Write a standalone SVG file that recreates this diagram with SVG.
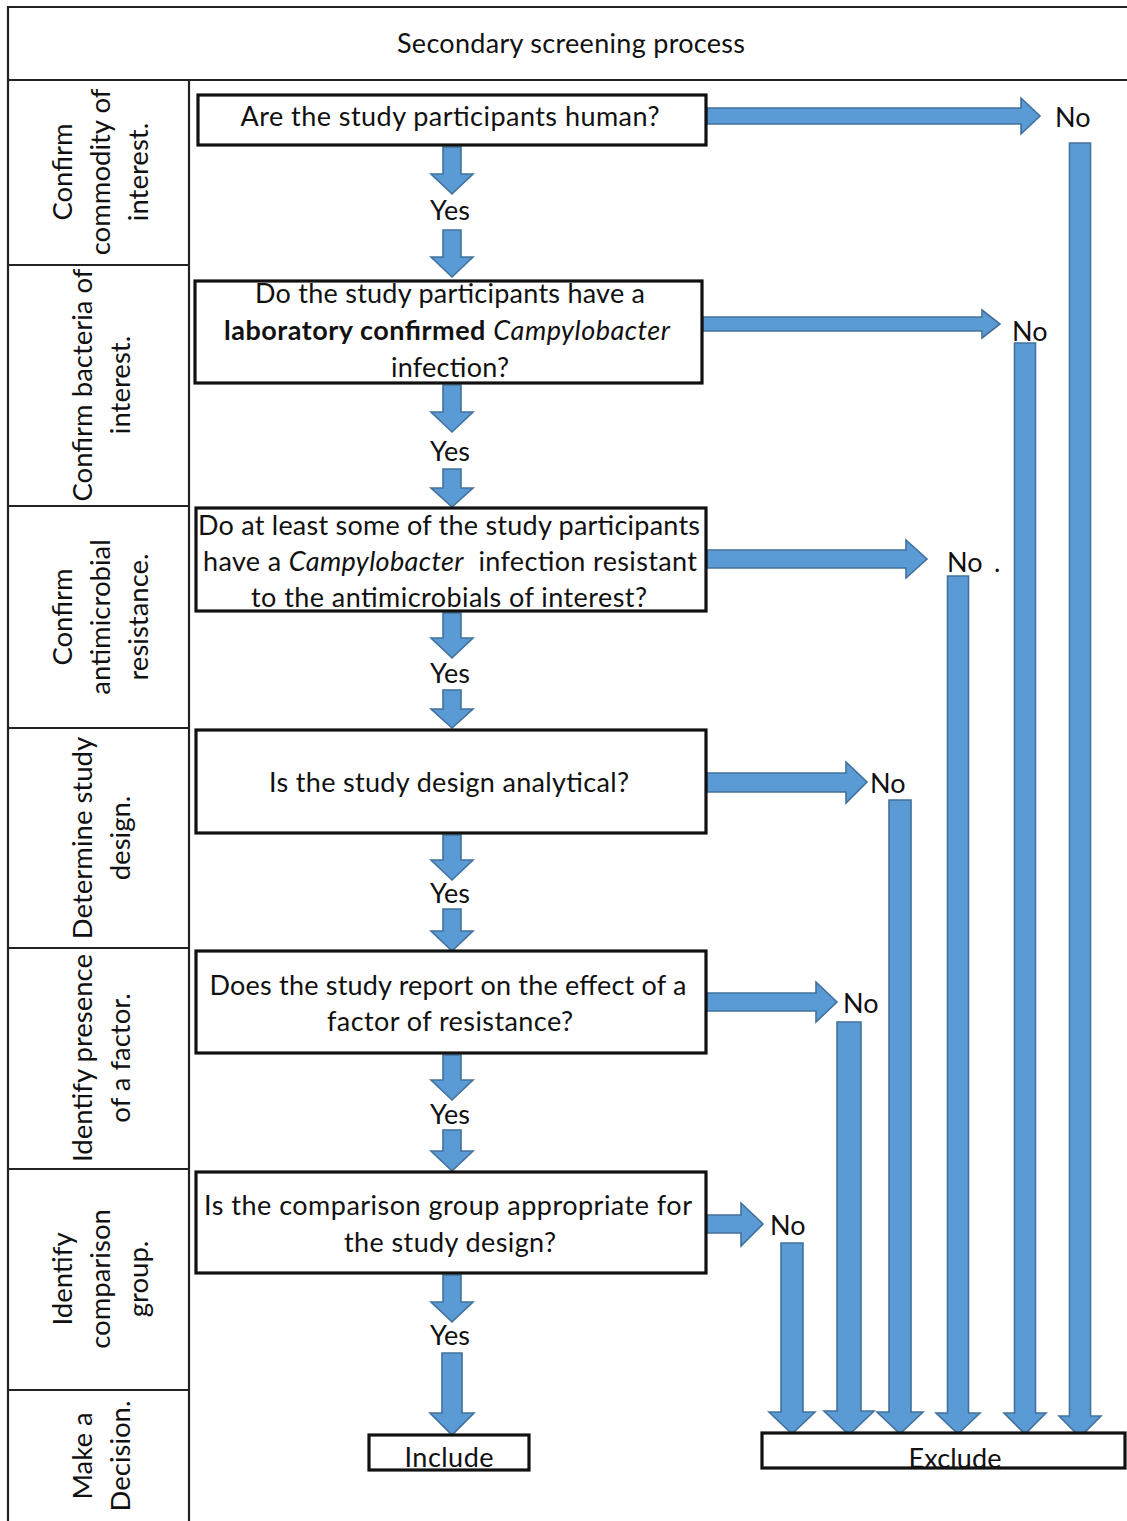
<svg xmlns="http://www.w3.org/2000/svg" width="1127" height="1521" viewBox="0 0 1127 1521">
<style>
.bg{fill:#ffffff}
.grid{stroke:#222;stroke-width:2.2;fill:none}
.box{fill:#ffffff;stroke:#111;stroke-width:3.2}
.t{font-family:Lato,"Open Sans","Liberation Sans",sans-serif;font-size:27px;fill:#111}
.c{text-anchor:middle}
.lab{font-family:Lato,"Open Sans","Liberation Sans",sans-serif;font-size:27.5px;fill:#111;text-anchor:middle}
.arr{fill:#5B9BD5;stroke:#41719C;stroke-width:1.6;stroke-linejoin:miter}
.b{font-weight:bold}
.i{font-style:italic}
</style>
<rect class="bg" x="0" y="0" width="1127" height="1521"/>

<g id="table">
<line class="grid" x1="8" y1="7" x2="1127" y2="7"/>
<line class="grid" x1="8" y1="80" x2="1127" y2="80"/>
<line class="grid" x1="8" y1="6" x2="8" y2="1521"/>
<line class="grid" x1="189" y1="80" x2="189" y2="1521"/>
<line class="grid" x1="8" y1="265" x2="189" y2="265"/>
<line class="grid" x1="8" y1="506" x2="189" y2="506"/>
<line class="grid" x1="8" y1="728" x2="189" y2="728"/>
<line class="grid" x1="8" y1="948" x2="189" y2="948"/>
<line class="grid" x1="8" y1="1169" x2="189" y2="1169"/>
<line class="grid" x1="8" y1="1390" x2="189" y2="1390"/>
<text class="t c" x="571" y="53" textLength="348">Secondary screening process</text>
</g>

<g id="stage-labels">
<g id="lab1">
<text class="lab" transform="translate(72,172) rotate(-90)">Confirm</text>
<text class="lab" transform="translate(110,172) rotate(-90)">commodity of</text>
<text class="lab" transform="translate(148,172) rotate(-90)">interest.</text>
</g>
<g id="lab2">
<text class="lab" transform="translate(92,385) rotate(-90)">Confirm bacteria of</text>
<text class="lab" transform="translate(130,385) rotate(-90)">interest.</text>
</g>
<g id="lab3">
<text class="lab" transform="translate(72,617) rotate(-90)">Confirm</text>
<text class="lab" transform="translate(110,617) rotate(-90)">antimicrobial</text>
<text class="lab" transform="translate(148,617) rotate(-90)">resistance.</text>
</g>
<g id="lab4">
<text class="lab" transform="translate(92,838) rotate(-90)">Determine study</text>
<text class="lab" transform="translate(130,838) rotate(-90)">design.</text>
</g>
<g id="lab5">
<text class="lab" transform="translate(92,1058) rotate(-90)">Identify presence</text>
<text class="lab" transform="translate(130,1058) rotate(-90)">of a factor.</text>
</g>
<g id="lab6">
<text class="lab" transform="translate(72,1279) rotate(-90)">Identify</text>
<text class="lab" transform="translate(110,1279) rotate(-90)">comparison</text>
<text class="lab" transform="translate(148,1279) rotate(-90)">group.</text>
</g>
<g id="lab7">
<text class="lab" transform="translate(92,1456) rotate(-90)">Make a</text>
<text class="lab" transform="translate(130,1456) rotate(-90)">Decision.</text>
</g>
</g>

<g id="connectors">
<!-- Yes arrows -->
<polygon class="arr" points="443,147 461,147 461,174 473,174 452,194 431,174 443,174"/>
<polygon class="arr" points="443,230 461,230 461,257 473,257 452,277 431,257 443,257"/>
<polygon class="arr" points="443,385 461,385 461,412 473,412 452,432 431,412 443,412"/>
<polygon class="arr" points="443,469 461,469 461,488 473,488 452,507 431,488 443,488"/>
<polygon class="arr" points="443,613 461,613 461,638 473,638 452,658 431,638 443,638"/>
<polygon class="arr" points="443,690 461,690 461,709 473,709 452,728 431,709 443,709"/>
<polygon class="arr" points="443,835 461,835 461,860 473,860 452,880 431,860 443,860"/>
<polygon class="arr" points="443,909 461,909 461,931 473,931 452,951 431,931 443,931"/>
<polygon class="arr" points="443,1055 461,1055 461,1080 473,1080 452,1100 431,1080 443,1080"/>
<polygon class="arr" points="443,1130 461,1130 461,1151 473,1151 452,1171 431,1151 443,1151"/>
<polygon class="arr" points="443,1275 461,1275 461,1302 473,1302 452,1322 431,1302 443,1302"/>
<polygon class="arr" points="442,1353 462,1353 462,1413 474,1413 452,1435 430,1413 442,1413"/>
<!-- No arrows (horizontal) -->
<polygon class="arr" points="707,108 1021,108 1021,98 1040,116 1021,134 1021,124 707,124"/>
<polygon class="arr" points="703,317 982,317 982,310 1000,324 982,338 982,331 703,331"/>
<polygon class="arr" points="707,550 906,550 906,540 927,559 906,578 906,568 707,568"/>
<polygon class="arr" points="707,773 846,773 846,762 867,782 846,803 846,792 707,792"/>
<polygon class="arr" points="707,993 816,993 816,982 837,1002 816,1022 816,1011 707,1011"/>
<polygon class="arr" points="707,1215 741,1215 741,1203 763,1224 741,1246 741,1233 707,1233"/>
<text class="t" x="1055" y="127">No</text>
<text class="t" x="1012" y="341">No</text>
<text class="t" x="947" y="572">No</text>
<text class="t" x="994" y="572">.</text>
<text class="t" x="870" y="793">No</text>
<text class="t" x="843" y="1013">No</text>
<text class="t" x="770" y="1235">No</text>
<!-- Yes labels -->
<text class="t c" x="450" y="220">Yes</text>
<text class="t c" x="450" y="461">Yes</text>
<text class="t c" x="450" y="683">Yes</text>
<text class="t c" x="450" y="903">Yes</text>
<text class="t c" x="450" y="1124">Yes</text>
<text class="t c" x="450" y="1345">Yes</text>
<!-- Exclude arrows (vertical) -->
<polygon class="arr" points="1069.5,143 1090.5,143 1090.5,1416 1101,1416 1080,1437 1059,1416 1069.5,1416"/>
<polygon class="arr" points="1014.5,343 1035.5,343 1035.5,1413 1046,1413 1025,1434 1004,1413 1014.5,1413"/>
<polygon class="arr" points="947.5,576 968.5,576 968.5,1413 980,1413 958,1434 936,1413 947.5,1413"/>
<polygon class="arr" points="889,800 911,800 911,1412 923,1412 900,1434 877,1412 889,1412"/>
<polygon class="arr" points="837,1022 861,1022 861,1411 874,1411 849,1435 824,1411 837,1411"/>
<polygon class="arr" points="781,1243 803,1243 803,1412 815,1412 792,1434 769,1412 781,1412"/>
</g>

<g id="q1">
<rect class="box" x="198" y="95" width="508" height="50"/>
<text class="t c" x="450" y="126" textLength="419">Are the study participants human?</text>
</g>
<g id="q2">
<rect class="box" x="195" y="281" width="507" height="102"/>
<text class="t c" x="450" y="303" textLength="390">Do the study participants have a</text>
<text class="t c" x="447" y="340" textLength="446"><tspan class="b">laboratory confirmed</tspan> <tspan class="i">Campylobacter</tspan></text>
<text class="t c" x="450" y="377" textLength="118">infection?</text>
</g>
<g id="q3">
<rect class="box" x="196" y="508" width="510" height="103"/>
<text class="t c" x="449" y="535" textLength="502">Do at least some of the study participants</text>
<text class="t c" x="450" y="571" textLength="494">have a <tspan class="i">Campylobacter</tspan>&#160; infection resistant</text>
<text class="t c" x="449" y="607" textLength="396">to the antimicrobials of interest?</text>
</g>
<g id="q4">
<rect class="box" x="196" y="730" width="510" height="103"/>
<text class="t c" x="449" y="792" textLength="360">Is the study design analytical?</text>
</g>
<g id="q5">
<rect class="box" x="196" y="951" width="510" height="102"/>
<text class="t c" x="448" y="995" textLength="477">Does the study report on the effect of a</text>
<text class="t c" x="450" y="1031" textLength="246">factor of resistance?</text>
</g>
<g id="q6">
<rect class="box" x="196" y="1172" width="510" height="101"/>
<text class="t c" x="448" y="1215" textLength="488">Is the comparison group appropriate for</text>
<text class="t c" x="450" y="1252" textLength="212">the study design?</text>
</g>
<g id="include">
<rect class="box" x="369" y="1435" width="160" height="35"/>
<text class="t c" x="449" y="1467" textLength="89">Include</text>
</g>
<g id="exclude">
<rect class="box" x="762" y="1433" width="363" height="35"/>
<text class="t c" x="955" y="1468" textLength="93">Exclude</text>
</g>
</svg>
